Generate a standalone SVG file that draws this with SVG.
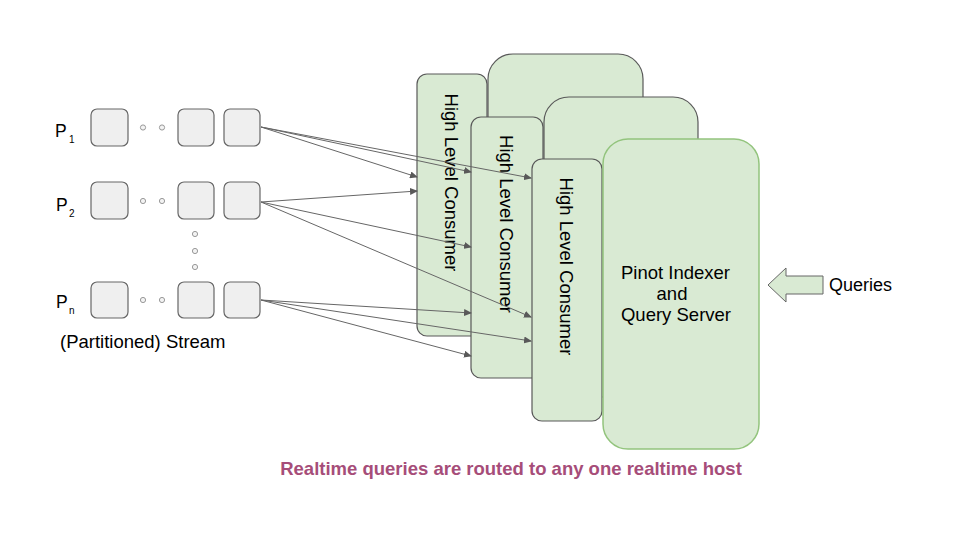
<svg xmlns="http://www.w3.org/2000/svg" width="960" height="540" viewBox="0 0 960 540">
<defs>
<style>
.seg{fill:#efefef;stroke:#666666;stroke-width:1.2}
.dot{fill:#f3f3f3;stroke:#999999;stroke-width:1}
.srv{fill:#d9ead3;stroke:#595959;stroke-width:1.2}
.srvf{fill:#d9ead3;stroke:#93c47d;stroke-width:1.5}
.hlc{fill:#d9ead3;stroke:#595959;stroke-width:1.2}
.t{font-family:"Liberation Sans",Arial,sans-serif;fill:#000000}
.lbl{font-size:18.5px}
.p{font-size:17.5px}
.sub{font-size:10px}
.conn{stroke:#666666;stroke-width:1;fill:none;marker-end:url(#ah)}
</style>
<marker id="ah" markerWidth="8" markerHeight="7" refX="7" refY="3.5" orient="auto" markerUnits="userSpaceOnUse">
<path d="M0,0 L8,3.5 L0,7 Z" fill="#595959"/>
</marker>
</defs>
<rect width="960" height="540" fill="#ffffff"/>

<g id="stream">
<g id="p1">
<text class="t p" x="55" y="137">P</text><text class="t sub" x="69" y="143">1</text>
<rect class="seg" x="91" y="109" width="37" height="37" rx="6"/>
<circle class="dot" cx="143" cy="127.5" r="2.6"/><circle class="dot" cx="162" cy="127.5" r="2.6"/>
<rect class="seg" x="178" y="109" width="36" height="37" rx="6"/>
<rect class="seg" x="224" y="109" width="36" height="37" rx="6"/>
</g>
<g id="p2">
<text class="t p" x="56" y="211">P</text><text class="t sub" x="69" y="217">2</text>
<rect class="seg" x="91" y="182" width="37" height="37" rx="6"/>
<circle class="dot" cx="143" cy="201" r="2.6"/><circle class="dot" cx="162" cy="201" r="2.6"/>
<rect class="seg" x="178" y="182" width="36" height="37" rx="6"/>
<rect class="seg" x="224" y="182" width="36" height="37" rx="6"/>
</g>
<g id="vdots">
<circle class="dot" cx="195" cy="234" r="2.6"/><circle class="dot" cx="195" cy="251" r="2.6"/><circle class="dot" cx="195" cy="267" r="2.6"/>
</g>
<g id="pn">
<text class="t p" x="56" y="308">P</text><text class="t sub" x="69" y="314">n</text>
<rect class="seg" x="91" y="282" width="37" height="36" rx="6"/>
<circle class="dot" cx="143" cy="300" r="2.6"/><circle class="dot" cx="162" cy="300" r="2.6"/>
<rect class="seg" x="178" y="282" width="36" height="36" rx="6"/>
<rect class="seg" x="224" y="282" width="36" height="36" rx="6"/>
</g>
<text class="t lbl" x="60" y="348">(Partitioned) Stream</text>
</g>

<g id="server1"><rect class="srv" x="488" y="54" width="155" height="290" rx="25"/></g>
<g id="hlc1">
<rect class="hlc" x="417" y="74" width="70" height="262" rx="10"/>
<text class="t lbl" text-anchor="middle" transform="translate(445,182.5) rotate(90)">High Level Consumer</text>
</g>
<g id="server2"><rect class="srv" x="544" y="97" width="154" height="300" rx="25"/></g>
<g id="hlc2">
<rect class="hlc" x="471" y="117" width="72" height="261" rx="10"/>
<text class="t lbl" text-anchor="middle" transform="translate(500,224) rotate(90)">High Level Consumer</text>
</g>
<g id="hlc3">
<rect class="hlc" x="532" y="159" width="70" height="262" rx="10"/>
<text class="t lbl" text-anchor="middle" transform="translate(560,266.5) rotate(90)">High Level Consumer</text>
</g>
<g id="server3">
<rect class="srvf" x="603" y="139" width="156" height="310" rx="25"/>
<text class="t lbl" text-anchor="middle" x="675.5" y="279">Pinot Indexer</text>
<text class="t lbl" text-anchor="middle" x="672" y="300">and</text>
<text class="t lbl" text-anchor="middle" x="676" y="321">Query Server</text>
</g>

<g id="queries">
<path d="M768,285 L786,268 L786,276 L823,276 L823,294 L786,294 L786,302 Z" fill="#d9ead3" stroke="#666666" stroke-width="1"/>
<text class="t" font-size="18" x="829" y="291">Queries</text>
</g>

<g id="connectors">
<line class="conn" x1="261" y1="127" x2="417" y2="177"/>
<line class="conn" x1="261" y1="127" x2="471" y2="172"/>
<line class="conn" x1="261" y1="127" x2="531" y2="178"/>
<line class="conn" x1="261" y1="202" x2="417" y2="191"/>
<line class="conn" x1="261" y1="202" x2="471" y2="247"/>
<line class="conn" x1="261" y1="202" x2="531" y2="317"/>
<line class="conn" x1="261" y1="300" x2="471" y2="313"/>
<line class="conn" x1="261" y1="300" x2="531" y2="341"/>
<line class="conn" x1="261" y1="300" x2="471" y2="356"/>
</g>

<text class="t" font-size="18.5" font-weight="bold" fill="#a64d79" style="fill:#a64d79" text-anchor="middle" x="511" y="475">Realtime queries are routed to any one realtime host</text>
</svg>
